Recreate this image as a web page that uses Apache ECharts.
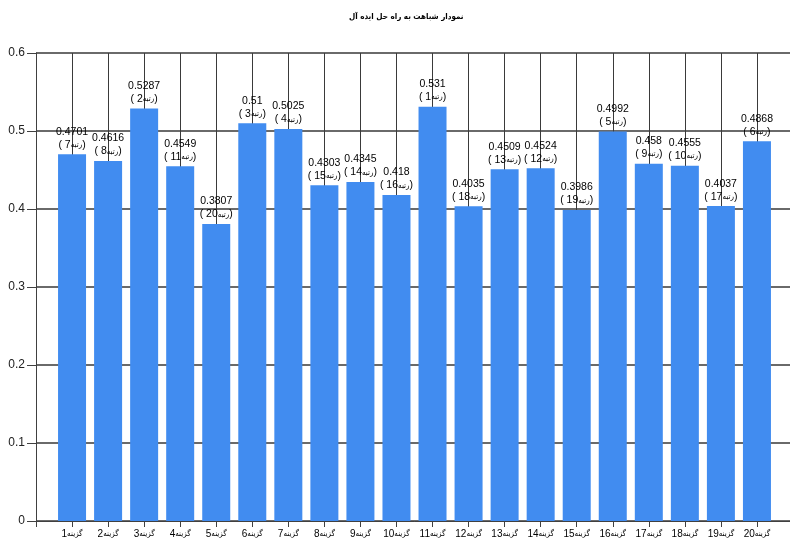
<!DOCTYPE html>
<html>
<head>
<meta charset="utf-8">
<script src="https://cdn.jsdelivr.net/npm/echarts@6/dist/echarts.min.js"></script>
<style>html,body{margin:0;padding:0;background:#fff;overflow:hidden;width:790px;height:540px;}#c{width:796px;height:540px;}</style>
</head>
<body>
<div id="c"></div>
<script>
var titleText = 'نمودار شباهت به راه حل ایده آل';
var categories = ['گزینه1','گزینه2','گزینه3','گزینه4','گزینه5','گزینه6','گزینه7','گزینه8','گزینه9','گزینه10',
                  'گزینه11','گزینه12','گزینه13','گزینه14','گزینه15','گزینه16','گزینه17','گزینه18','گزینه19','گزینه20'];
var values = [0.4701,0.4616,0.5287,0.4549,0.3807,0.51,0.5025,0.4303,0.4345,0.418,
              0.531,0.4035,0.4509,0.4524,0.3986,0.4992,0.458,0.4555,0.4037,0.4868];
var ranks = [7,8,2,11,20,3,4,15,14,16,1,18,13,12,19,5,9,10,17,6];
var rankWord = 'رتبه';
var yTicks = [0,0.1,0.2,0.3,0.4,0.5,0.6];

var latin = "'Liberation Sans', Arial, sans-serif";
var arab = "'DejaVu Sans Condensed', 'DejaVu Sans', sans-serif";
var axisData = [''].concat(categories).concat(['']);
var barData = [null];
for (var i = 0; i < values.length; i++) {
  barData.push({ value: values[i], rank: ranks[i] });
}
barData.push(null);

var chart = echarts.init(document.getElementById('c'));
chart.setOption({
  animation: false,
  backgroundColor: '#ffffff',
  title: {
    text: titleText, left: 349, top: 13, padding: 0,
    textStyle: { fontFamily: arab, fontSize: 8, fontWeight: 'bold', color: '#000' }
  },
  grid: { left: 36, right: 0, top: 53, bottom: 19, containLabel: false },
  xAxis: {
    type: 'category',
    data: axisData,
    boundaryGap: false,
    axisLine: { show: true, lineStyle: { color: '#404040', width: 1 } },
    axisTick: { show: true, length: 6, interval: 0, lineStyle: { color: '#404040' } },
    axisLabel: {
      interval: 0, margin: 8, color: '#000',
      formatter: function (v) {
        if (!v) return '';
        var m = v.match(/^(\D+)(\d+)$/);
        return '{n|' + m[2] + '}{a|' + m[1] + '}';
      },
      rich: {
        n: { fontFamily: latin, fontSize: 10, color: '#000' },
        a: { fontFamily: arab, fontSize: 8, color: '#000' }
      }
    },
    splitLine: { show: true, interval: 0, lineStyle: { color: '#3a3a3a', width: 1 } }
  },
  yAxis: {
    type: 'value',
    min: 0, max: 0.6, interval: 0.1,
    axisLine: { show: true, lineStyle: { color: '#404040', width: 1 } },
    axisTick: { show: true, length: 9, lineStyle: { color: '#404040' } },
    axisLabel: {
      margin: 11, fontFamily: latin, fontSize: 12, color: '#222',
      formatter: function (v) {
        for (var k = 0; k < yTicks.length; k++) {
          if (Math.abs(yTicks[k] - v) < 1e-9) return String(yTicks[k]);
        }
        return '';
      }
    },
    splitLine: { show: true, lineStyle: { color: '#6a6a6a', width: 2 } }
  },
  series: [{
    type: 'bar',
    data: barData,
    barWidth: 28,
    itemStyle: { color: '#418CF0' },
    label: {
      show: true, position: 'top', distance: 3, align: 'center',
      formatter: function (p) {
        return '{v|' + String(p.value) + '}\n{v|( ' + p.data.rank + '}{a|' + rankWord + '}{v|)}';
      },
      rich: {
        v: { fontFamily: latin, fontSize: 10.5, color: '#000', lineHeight: 13 },
        a: { fontFamily: arab, fontSize: 8, color: '#000', lineHeight: 13 }
      }
    }
  }]
});
</script>
</body>
</html>
